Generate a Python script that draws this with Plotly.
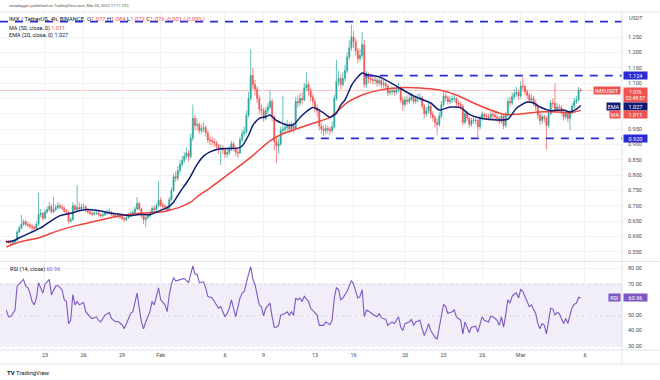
import pandas as pd
import plotly.graph_objects as go

# ---------------- data ----------------
BAR_START = "2023-01-20 00:00"
BAR_FREQ = "4h"
first_open = 0.586

closes = [
    0.584, 0.580, 0.579, 0.582, 0.588, 0.615,   # Jan 20
    0.628, 0.640, 0.648, 0.640, 0.638, 0.632,   # Jan 21
    0.630, 0.626, 0.640, 0.672, 0.675, 0.660,   # Jan 22
    0.680, 0.688, 0.698, 0.680, 0.688, 0.695,   # Jan 23
    0.700, 0.696, 0.692, 0.682, 0.680, 0.650,   # Jan 24
    0.655, 0.700, 0.688, 0.695, 0.690, 0.696,   # Jan 25
    0.697, 0.686, 0.680, 0.676, 0.673, 0.676,   # Jan 26
    0.677, 0.671, 0.668, 0.671, 0.676, 0.678,   # Jan 27
    0.680, 0.672, 0.668, 0.666, 0.667, 0.664,   # Jan 28
    0.660, 0.655, 0.662, 0.670, 0.675, 0.678,   # Jan 29
    0.690, 0.708, 0.690, 0.668, 0.655, 0.662,   # Jan 30
    0.668, 0.678, 0.692, 0.688, 0.700, 0.718,   # Jan 31
    0.702, 0.698, 0.695, 0.688, 0.720, 0.750,   # Feb 1
    0.795, 0.790, 0.815, 0.835, 0.848, 0.862,   # Feb 2
    0.872, 0.860, 0.920, 0.985, 0.962, 0.965,   # Feb 3
    0.945, 0.952, 0.955, 0.938, 0.915, 0.912,   # Feb 4
    0.910, 0.905, 0.895, 0.885, 0.888, 0.882,   # Feb 5
    0.868, 0.874, 0.885, 0.902, 0.888, 0.875,   # Feb 6
    0.872, 0.915, 0.935, 0.942, 0.995, 1.050,   # Feb 7
    1.125, 1.095, 1.080, 1.050, 1.015, 1.010,   # Feb 8
    0.985, 1.010, 1.022, 1.040, 0.990, 0.910,   # Feb 9
    0.895, 0.902, 0.945, 0.950, 0.955, 0.962,   # Feb 10
    0.950, 0.960, 0.952, 1.040, 1.035, 1.050,   # Feb 11
    1.045, 1.085, 1.095, 1.075, 1.055, 1.040,   # Feb 12
    1.020, 1.010, 0.960, 0.950, 0.945, 0.952,   # Feb 13
    0.948, 0.945, 0.958, 1.050, 1.105, 1.115,   # Feb 14
    1.095, 1.115, 1.140, 1.185, 1.215, 1.250,   # Feb 15
    1.235, 1.205, 1.180, 1.190, 1.225, 1.095,   # Feb 16
    1.120, 1.115, 1.112, 1.108, 1.110, 1.100,   # Feb 17
    1.108, 1.095, 1.098, 1.090, 1.068, 1.072,   # Feb 18
    1.075, 1.070, 1.078, 1.085, 1.045, 1.030,   # Feb 19
    1.045, 1.040, 1.048, 1.055, 1.040, 1.048,   # Feb 20
    1.050, 1.052, 1.025, 1.000, 1.010, 1.025,   # Feb 21
    0.998, 0.988, 0.972, 0.965, 0.992, 1.030,   # Feb 22
    1.058, 1.052, 1.040, 1.045, 1.048, 1.050,   # Feb 23
    1.035, 1.030, 1.025, 0.972, 1.000, 0.985,   # Feb 24
    0.965, 0.978, 0.980, 0.978, 0.958, 0.985,   # Feb 25
    0.998, 0.992, 0.990, 0.988, 0.998, 0.995,   # Feb 26
    0.990, 0.985, 0.975, 0.992, 0.962, 0.995,   # Feb 27
    1.040, 1.035, 1.055, 1.065, 1.070, 1.058,   # Feb 28
    1.090, 1.088, 1.072, 1.060, 1.045, 1.050,   # Mar 1
    1.035, 1.022, 0.995, 0.978, 0.990, 0.985,   # Mar 2
    0.962, 1.000, 1.035, 1.034, 1.015, 1.022,   # Mar 3
    1.020, 1.005, 0.990, 1.000, 0.985, 1.005,   # Mar 4
    1.025, 1.040, 1.045, 1.077, 1.076,          # Mar 5
]

highs = [
    0.590, 0.588, 0.585, 0.587, 0.592, 0.620,
    0.635, 0.670, 0.656, 0.654, 0.648, 0.645,
    0.640, 0.636, 0.648, 0.742, 0.690, 0.680,
    0.688, 0.698, 0.712, 0.705, 0.729, 0.705,
    0.712, 0.708, 0.703, 0.698, 0.690, 0.684,
    0.662, 0.712, 0.706, 0.768, 0.712, 0.706,
    0.708, 0.702, 0.692, 0.686, 0.682, 0.684,
    0.686, 0.683, 0.676, 0.678, 0.684, 0.688,
    0.690, 0.684, 0.678, 0.674, 0.675, 0.672,
    0.670, 0.664, 0.668, 0.676, 0.682, 0.686,
    0.698, 0.729, 0.712, 0.694, 0.672, 0.668,
    0.676, 0.685, 0.700, 0.702, 0.708, 0.780,
    0.728, 0.712, 0.706, 0.702, 0.728, 0.760,
    0.805, 0.812, 0.830, 0.848, 0.862, 0.875,
    0.890, 0.882, 0.935, 1.030, 0.995, 0.985,
    0.972, 0.965, 0.972, 0.962, 0.945, 0.928,
    0.925, 0.920, 0.912, 0.902, 0.900, 0.898,
    0.890, 0.885, 0.895, 0.912, 0.908, 0.895,
    0.885, 0.925, 0.948, 0.958, 1.010, 1.070,
    1.210, 1.150, 1.110, 1.090, 1.060, 1.030,
    1.020, 1.022, 1.035, 1.077, 1.048, 0.995,
    0.925, 0.920, 0.958, 1.060, 0.972, 0.980,
    0.972, 0.975, 0.970, 1.055, 1.060, 1.068,
    1.070, 1.100, 1.136, 1.105, 1.085, 1.065,
    1.050, 1.030, 1.015, 0.970, 0.962, 0.965,
    0.962, 0.958, 0.975, 1.062, 1.175, 1.140,
    1.128, 1.135, 1.160, 1.200, 1.240, 1.290,
    1.270, 1.245, 1.215, 1.212, 1.266, 1.240,
    1.140, 1.135, 1.130, 1.125, 1.122, 1.118,
    1.120, 1.115, 1.110, 1.105, 1.095, 1.085,
    1.088, 1.085, 1.090, 1.100, 1.090, 1.055,
    1.058, 1.060, 1.062, 1.068, 1.062, 1.060,
    1.065, 1.068, 1.058, 1.032, 1.022, 1.038,
    1.030, 1.008, 0.995, 0.985, 1.005, 1.042,
    1.070, 1.068, 1.060, 1.058, 1.060, 1.062,
    1.055, 1.045, 1.040, 1.030, 1.010, 1.008,
    0.992, 0.988, 0.992, 0.990, 0.985, 0.995,
    1.008, 1.005, 1.002, 1.000, 1.010, 1.008,
    1.005, 0.998, 0.992, 1.002, 0.998, 1.005,
    1.052, 1.055, 1.068, 1.080, 1.088, 1.078,
    1.105, 1.120, 1.095, 1.080, 1.068, 1.062,
    1.058, 1.045, 1.030, 1.002, 1.000, 0.998,
    0.992, 1.012, 1.045, 1.050, 1.100, 1.035,
    1.032, 1.028, 1.012, 1.010, 1.008, 1.012,
    1.035, 1.052, 1.058, 1.088, 1.084,
]

lows = [
    0.578, 0.576, 0.574, 0.576, 0.579, 0.585,
    0.610, 0.622, 0.634, 0.633, 0.630, 0.625,
    0.620, 0.618, 0.622, 0.636, 0.662, 0.652,
    0.656, 0.674, 0.682, 0.675, 0.676, 0.682,
    0.688, 0.690, 0.686, 0.676, 0.672, 0.642,
    0.645, 0.652, 0.682, 0.684, 0.684, 0.686,
    0.688, 0.680, 0.673, 0.670, 0.666, 0.668,
    0.670, 0.665, 0.661, 0.662, 0.666, 0.671,
    0.672, 0.666, 0.662, 0.660, 0.659, 0.657,
    0.653, 0.647, 0.650, 0.657, 0.665, 0.670,
    0.674, 0.686, 0.684, 0.660, 0.640, 0.630,
    0.655, 0.662, 0.673, 0.680, 0.684, 0.695,
    0.696, 0.690, 0.686, 0.680, 0.684, 0.715,
    0.745, 0.778, 0.782, 0.805, 0.826, 0.840,
    0.852, 0.845, 0.855, 0.912, 0.945, 0.948,
    0.935, 0.935, 0.940, 0.925, 0.905, 0.898,
    0.898, 0.892, 0.882, 0.870, 0.833, 0.868,
    0.855, 0.858, 0.865, 0.878, 0.878, 0.862,
    0.855, 0.868, 0.908, 0.925, 0.935, 0.988,
    1.042, 1.080, 1.060, 1.035, 1.000, 0.995,
    0.975, 0.978, 1.000, 1.015, 0.975, 0.880,
    0.840, 0.870, 0.895, 0.935, 0.938, 0.942,
    0.935, 0.940, 0.938, 0.948, 1.020, 1.025,
    1.030, 1.040, 1.075, 1.060, 1.040, 1.025,
    1.005, 0.990, 0.945, 0.935, 0.928, 0.932,
    0.935, 0.930, 0.938, 0.952, 1.042, 1.090,
    1.080, 1.088, 1.105, 1.132, 1.175, 1.205,
    1.215, 1.190, 1.165, 1.170, 1.180, 1.085,
    1.085, 1.100, 1.098, 1.095, 1.096, 1.088,
    1.090, 1.082, 1.085, 1.078, 1.058, 1.060,
    1.062, 1.058, 1.062, 1.070, 1.035, 1.010,
    1.022, 1.030, 1.032, 1.040, 1.030, 1.032,
    1.038, 1.040, 1.015, 0.985, 0.990, 1.002,
    0.985, 0.975, 0.955, 0.930, 0.958, 0.985,
    1.022, 1.040, 1.030, 1.032, 1.035, 1.038,
    1.025, 1.018, 1.012, 0.962, 0.965, 0.975,
    0.955, 0.958, 0.968, 0.966, 0.924, 0.950,
    0.978, 0.982, 0.980, 0.978, 0.980, 0.985,
    0.980, 0.975, 0.965, 0.968, 0.950, 0.955,
    0.990, 1.022, 1.028, 1.045, 1.055, 1.045,
    1.050, 1.075, 1.060, 1.048, 1.035, 1.038,
    1.025, 1.010, 0.982, 0.962, 0.968, 0.972,
    0.882, 0.955, 0.995, 1.020, 1.005, 1.008,
    1.008, 0.995, 0.978, 0.982, 0.972, 0.947,
    0.998, 1.018, 1.032, 1.040, 1.072,
]

# EMA(20) read at selected bars (bar number, value)
ema_bar = [0, 4, 6, 11, 16, 20, 25, 30, 34, 38, 44, 48, 53, 58, 62, 67, 70, 75, 78, 81,
           85, 89, 92, 95, 100, 104, 108, 110, 113, 115, 118, 121, 123, 126, 131, 134,
           138, 143, 148, 151, 154, 156, 158, 161, 163, 166, 168, 174, 182, 190, 198,
           202, 207, 212, 216, 221, 229, 234, 238, 243, 246, 249, 254, 260, 263, 266, 268]
ema_val = [0.582, 0.588, 0.596, 0.612, 0.628, 0.647, 0.668, 0.676, 0.684, 0.688, 0.683,
           0.677, 0.673, 0.668, 0.672, 0.671, 0.680, 0.694, 0.712, 0.745, 0.785, 0.835,
           0.862, 0.876, 0.886, 0.887, 0.888, 0.895, 0.930, 0.962, 0.985, 0.990, 0.996,
           0.978, 0.963, 0.965, 0.995, 1.020, 1.003, 0.988, 1.002, 1.028, 1.045, 1.092,
           1.112, 1.133, 1.128, 1.120, 1.090, 1.058, 1.035, 1.012, 1.022, 1.020, 0.998,
           0.986, 0.980, 0.982, 1.018, 1.038, 1.035, 1.022, 1.010, 1.012, 1.006, 1.015, 1.027]

# MA(50) read at selected bars
ma_bar = [0, 6, 16, 25, 34, 44, 53, 62, 72, 76, 81, 86, 90, 95, 104, 114, 123, 129, 138,
          145, 151, 159, 166, 174, 182, 193, 202, 210, 218, 226, 232, 238, 248, 257, 263, 268]
ma_val = [0.566, 0.582, 0.598, 0.621, 0.638, 0.654, 0.668, 0.676, 0.680, 0.686, 0.696,
          0.712, 0.735, 0.758, 0.805, 0.858, 0.912, 0.935, 0.957, 0.973, 0.988, 1.036,
          1.061, 1.077, 1.084, 1.084, 1.077, 1.061, 1.035, 1.012, 0.998, 0.998, 1.006,
          1.006, 1.003, 1.011]

# RSI(14) read at selected bars
rsi_bar = [0, 1, 2, 4, 5, 7, 8, 9, 10, 11, 12, 13, 14, 15, 17, 18, 20, 21, 23, 24, 26, 27,
           28, 29, 30, 31, 32, 33, 34, 36, 37, 39, 40, 42, 43, 44, 46, 48, 49, 51, 52, 54,
           55, 57, 58, 59, 61, 62, 63, 64, 65, 67, 68, 69, 70, 71, 72, 74, 75, 76, 77, 78,
           79, 80, 82, 83, 85, 86, 87, 88, 89, 90, 92, 93, 94, 96, 97, 99, 100, 102, 103,
           104, 105, 106, 107, 109, 110, 111, 112, 113, 114, 115, 116, 117, 118, 119, 120,
           121, 123, 124, 125, 126, 127, 128, 130, 131, 132, 133, 134, 135, 136, 137, 138,
           139, 141, 142, 144, 145, 146, 148, 149, 151, 152, 153, 154, 155, 156, 157, 159,
           160, 161, 162, 163, 164, 165, 166, 167, 168, 170, 171, 173, 174, 175, 177, 178,
           180, 181, 182, 183, 184, 185, 186, 188, 189, 190, 191, 193, 194, 195, 196, 197,
           198, 200, 201, 202, 203, 204, 205, 206, 208, 209, 210, 212, 213, 214, 215, 216,
           217, 219, 220, 221, 222, 223, 225, 226, 227, 229, 230, 231, 232, 233, 234, 235,
           236, 237, 238, 239, 240, 241, 242, 243, 244, 245, 247, 248, 249, 250, 251, 252,
           253, 254, 255, 256, 257, 258, 259, 260, 261, 262, 263, 264, 265, 266, 267, 268]
rsi_val = [53, 48.7, 48.7, 53, 68.5, 71.8, 72.9, 68.5, 67.4, 64, 58.6, 56.4, 60.8, 70.7, 64,
           69.6, 72.9, 63, 68.5, 69, 66, 59.7, 58.6, 44.3, 46.5, 63, 56.4, 58.6, 56.4, 57.9,
           52, 48.7, 47.6, 48.7, 46.5, 45.4, 49.8, 51.5, 47.6, 45.4, 45.8, 43.6, 41, 47.6,
           50.9, 52, 64, 54.2, 45.4, 41, 45.4, 52, 58.6, 56.4, 61.9, 67.4, 59.7, 56.4, 52,
           63, 69.6, 74, 71.8, 72.2, 72.9, 73.5, 70.7, 76.2, 81.6, 76.2, 76.2, 70.7, 71.3,
           67.4, 61.9, 60.8, 58.6, 54.2, 55.3, 48.7, 50.9, 54.2, 59.7, 53, 48.7, 60.8, 64,
           65.1, 71.8, 76.2, 81, 72.9, 69.6, 63, 56.4, 55.3, 49.3, 54.2, 57.5, 48.7, 42, 42,
           43.2, 49.8, 50.9, 52, 49.8, 52, 49.8, 60.8, 59.7, 60.8, 58.6, 61.9, 58.6, 54.2,
           50.9, 49.8, 43.2, 43.2, 45.4, 43.8, 46.5, 60.8, 67.4, 66.3, 59.7, 60.8, 65.2,
           69.1, 72.2, 69.6, 65.2, 60.8, 61.9, 66.3, 48.7, 53, 51.5, 50.2, 48.7, 50.9, 48,
           47.1, 43.2, 45.4, 44.3, 46.5, 48.7, 42, 39.9, 44.3, 45.4, 47.1, 43.2, 45.4, 46.5,
           41, 36.6, 39.9, 44.3, 39.9, 35.5, 34.4, 42, 50.9, 56.8, 55.3, 50.9, 52, 53.1,
           48.7, 46.5, 37.7, 45.4, 42, 38.4, 42, 42.7, 38.8, 44.3, 48.7, 46.5, 45.4, 49.1,
           48.7, 46.5, 43.2, 48.7, 42, 49.8, 59.7, 57.5, 61.9, 63.4, 64.1, 60.8, 66.3, 65.2,
           61.9, 58.6, 55.3, 56.4, 50.9, 44.3, 41, 44.3, 43.2, 37.7, 47.6, 54.2, 53.7, 49.8,
           51.5, 50.9, 47.6, 44.3, 47.6, 44.3, 49.8, 54.6, 56.8, 57.5, 61.2, 60.96]

last_close = 1.076
ema_last = 1.027
ma_last = 1.011
rsi_last = 60.96
level_top = 1.30
level_resistance = 1.124
level_support = 0.920
resistance_from = "2023-02-16 21:00"
support_from = "2023-02-12 07:00"

date_tick_vals = ["2023-01-23", "2023-01-26", "2023-01-29", "2023-02-01", "2023-02-06",
                  "2023-02-09", "2023-02-13", "2023-02-16", "2023-02-20", "2023-02-23",
                  "2023-02-26", "2023-03-01", "2023-03-06"]
date_tick_text = ["23", "26", "29", "Feb", "6", "9", "13", "16", "20", "23", "26", "Mar", "6"]
price_tick_vals = [0.55, 0.60, 0.65, 0.70, 0.75, 0.80, 0.85, 0.90, 0.95, 1.00, 1.05,
                   1.10, 1.15, 1.20, 1.25]
# 1.000 and 1.050 sit under the price/indicator labels in the reference
price_tick_text = ["0.550", "0.600", "0.650", "0.700", "0.750", "0.800", "0.850", "0.900",
                   "0.950", "", "", "1.100", "1.150", "1.200", "1.250"]
rsi_tick_vals = [30, 40, 50, 70, 80]

# ---------------- build ----------------
times = pd.date_range(BAR_START, periods=len(closes), freq=BAR_FREQ)
opens = [first_open] + closes[:-1]
bar = pd.Timedelta(BAR_FREQ)

# pixel geometry
W, H = 660, 380
PL, PR, PT, PB = 0, 622, 12, 350


def fx(px):
    return (px - PL) / (PR - PL)


def fy(py):
    return (PB - py) / (PB - PT)


MAIN_BOTTOM_PX, RSI_TOP_PX = 261, 262
PX_PER_PRICE = 307.0
main_range = [1.25 - (MAIN_BOTTOM_PX - 37) / PX_PER_PRICE, 1.25 + (37 - PT) / PX_PER_PRICE]
PX_PER_RSI = 1.55
rsi_range = [80 - (PB - 268.3) / PX_PER_RSI, 80 + (268.3 - RSI_TOP_PX) / PX_PER_RSI]
x_range = [times[0] - 2.99 * bar, times[0] + 287.27 * bar]

UP, DOWN = "#26a69a", "#ef5350"
EMA_C, MA_C, RSI_C = "#0f1c73", "#f0433a", "#7e57c2"
LEVEL_C = "#2b2bd6"
GRID = "#f0f2f6"
FONT = "Roboto"

fig = go.Figure()
fig.add_trace(go.Candlestick(
    x=times, open=opens, high=highs, low=lows, close=closes,
    increasing=dict(line=dict(color=UP, width=0.7), fillcolor=UP),
    decreasing=dict(line=dict(color=DOWN, width=0.7), fillcolor=DOWN),
    whiskerwidth=0, xaxis="x", yaxis="y", hoverinfo="skip"))
fig.add_trace(go.Scatter(x=times[ma_bar], y=ma_val, mode="lines",
                         line=dict(color=MA_C, width=1.5, shape="spline", smoothing=0.6),
                         xaxis="x", yaxis="y", hoverinfo="skip"))
fig.add_trace(go.Scatter(x=times[ema_bar], y=ema_val, mode="lines",
                         line=dict(color=EMA_C, width=1.5, shape="spline", smoothing=0.6),
                         xaxis="x", yaxis="y", hoverinfo="skip"))
fig.add_trace(go.Scatter(x=times[rsi_bar], y=rsi_val, mode="lines",
                         line=dict(color=RSI_C, width=1.1),
                         xaxis="x", yaxis="y2", hoverinfo="skip"))

shapes = []
# RSI band and guide lines
shapes.append(dict(type="rect", xref="paper", yref="y2", x0=0, x1=1, y0=30, y1=70,
                   fillcolor="rgba(126,87,194,0.10)", line=dict(width=0), layer="below"))
for lv in (70, 50, 30):
    shapes.append(dict(type="line", xref="paper", yref="y2", x0=0, x1=1, y0=lv, y1=lv,
                       line=dict(color="#a3a6af", width=0.8, dash="3px,3px"), layer="below"))
# last price line
shapes.append(dict(type="line", xref="paper", yref="y", x0=0, x1=1, y0=last_close, y1=last_close,
                   line=dict(color="rgba(239,83,80,0.35)", width=1), layer="below"))
# horizontal levels
shapes.append(dict(type="line", xref="paper", yref="y", x0=0, x1=1, y0=level_top, y1=level_top,
                   line=dict(color=LEVEL_C, width=1.8, dash="8px,7px")))
shapes.append(dict(type="line", xref="x", yref="y", x0=resistance_from, x1=x_range[1],
                   y0=level_resistance, y1=level_resistance,
                   line=dict(color=LEVEL_C, width=1.8, dash="8px,7px")))
shapes.append(dict(type="line", xref="x", yref="y", x0=support_from, x1=x_range[1],
                   y0=level_support, y1=level_support,
                   line=dict(color=LEVEL_C, width=1.8, dash="8px,7px")))
# frame lines
BORDER = "#e0e3eb"
for py in (261.5, PB, 364, PT):
    shapes.append(dict(type="line", xref="paper", yref="paper", x0=0, x1=fx(W),
                       y0=fy(py), y1=fy(py), line=dict(color=BORDER, width=1)))
shapes.append(dict(type="line", xref="paper", yref="paper", x0=1, x1=1,
                   y0=fy(364), y1=fy(PT), line=dict(color=BORDER, width=1)))

ann = []


def text_at(px, py, text, size=5.5, color="#131722"):
    ann.append(dict(xref="paper", yref="paper", x=fx(px), y=fy(py), text=text,
                    showarrow=False, xanchor="left", yanchor="middle",
                    font=dict(family=FONT, size=size, color=color)))


def box(y, yref, text, bg, side="right", width=22, yshift=0, yanchor="middle",
        size=5.5, pad=1):
    ann.append(dict(xref="paper", yref=yref, x=1, y=y, text=text, showarrow=False,
                    xanchor="left" if side == "right" else "right", yanchor=yanchor,
                    xshift=1 if side == "right" else -1, yshift=yshift,
                    bgcolor=bg, borderpad=pad, width=width, align="center",
                    font=dict(family=FONT, size=size, color="white")))


RED_TXT = "#ef5350"
text_at(7, 6, "ranadagger published on TradingView.com, Mar 05, 2023 17:11 UTC", size=4, color="#555")
header = ("IMX / TetherUS, 4h, BINANCE&nbsp; "
          f"O<span style='color:{RED_TXT}'>1.077</span> "
          f"H<span style='color:{RED_TXT}'>1.084</span> "
          f"L<span style='color:{RED_TXT}'>1.072</span> "
          f"C<span style='color:{RED_TXT}'>1.076</span> "
          f"<span style='color:{RED_TXT}'>-0.001 (-0.09%)</span>")
text_at(7, 19.5, header, size=5.8)
text_at(7, 28, f"MA (50, close, 0) <span style='color:{MA_C}'>1.011</span>")
text_at(7, 35.5, f"EMA (20, close, 0) <span style='color:{EMA_C}'>1.027</span>")
text_at(8, 269, f"RSI (14, close) <span style='color:{RSI_C}'>60.96</span>")
text_at(5, 372, "<b>TV</b> TradingView", size=6)
text_at(627, 18, "USDT", size=5.5, color="#555")

box(level_resistance, "y", "1.124", LEVEL_C, pad=0.5)
box(level_support, "y", "0.920", LEVEL_C, pad=0.5)
box(last_close, "y", "IMXUSDT", "#ef5350", side="left", width=25, pad=0.5)
box(last_close, "y", "1.076<br>02:48:57", "#ef5350", yanchor="top", yshift=3.5,
    size=5, pad=0.5)
box(ema_last, "y", "EMA", EMA_C, side="left", width=12, yshift=-1.5, pad=0.5)
box(ema_last, "y", "1.027", EMA_C, yshift=-1.5, pad=0.5)
box(ma_last, "y", "MA", "#ef5350", side="left", width=9, yshift=-4, pad=0.5)
box(ma_last, "y", "1.011", "#ef5350", yshift=-4, pad=0.5)
box(rsi_last, "y2", "RSI", RSI_C, side="left", width=10, pad=0.5)
box(rsi_last, "y2", "60.96", RSI_C, pad=0.5)

axis_font = dict(family=FONT, size=5.5, color="#4a4a4a")
fig.update_layout(
    width=W, height=H,
    margin=dict(l=PL, r=W - PR, t=PT, b=H - PB),
    paper_bgcolor="white", plot_bgcolor="white",
    showlegend=False, hovermode=False, dragmode=False,
    font=dict(family=FONT, size=5.5, color="#4a4a4a"),
    xaxis=dict(domain=[0, 1], anchor="y2", type="date", range=x_range,
               tickmode="array", tickvals=date_tick_vals, ticktext=date_tick_text,
               showgrid=True, gridcolor=GRID, gridwidth=1, zeroline=False,
               showline=False, ticks="", tickfont=axis_font,
               rangeslider=dict(visible=False), fixedrange=True),
    yaxis=dict(domain=[fy(MAIN_BOTTOM_PX), 1], anchor="x", side="right", range=main_range,
               tickmode="array", tickvals=price_tick_vals, ticktext=price_tick_text,
               showgrid=True, gridcolor=GRID, gridwidth=1, zeroline=False,
               showline=False, ticks="", tickfont=axis_font, ticklabelstandoff=5,
               fixedrange=True),
    yaxis2=dict(domain=[0, fy(RSI_TOP_PX)], anchor="x", side="right", range=rsi_range,
                tickmode="array", tickvals=rsi_tick_vals, tickformat=".2f",
                showgrid=True, gridcolor=GRID, gridwidth=1, zeroline=False,
                showline=False, ticks="", tickfont=axis_font, ticklabelstandoff=5,
                fixedrange=True),
    shapes=shapes, annotations=ann,
)

fig.write_html("out.html", config={"displayModeBar": False},
               post_script="document.body.style.margin='0';")
